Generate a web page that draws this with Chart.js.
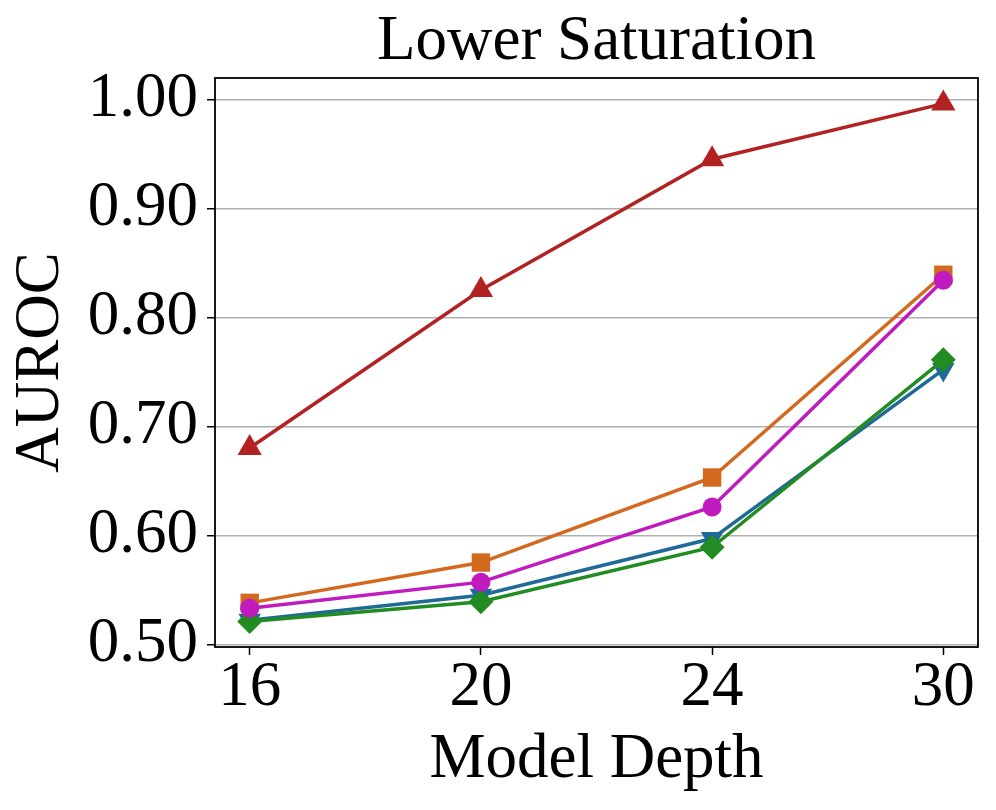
<!DOCTYPE html>
<html>
<head>
<meta charset="utf-8">
<script src="https://cdn.jsdelivr.net/npm/chart.js@4"></script>
<style>
html,body{margin:0;padding:0;background:#fff;}
#wrap{width:996px;height:810px;}
</style>
</head>
<body>
<div id="wrap"><canvas id="c" width="996" height="810"></canvas></div>
<script>
const chartTitle = 'Lower Saturation';
const depthLabels = ['16', '20', '24', '30'];
const yTickValues = [0.5, 0.6, 0.7, 0.8, 0.9, 1.0];
const yTickLabels = ['0.50', '0.60', '0.70', '0.80', '0.90', '1.00'];
const redSeries = [0.680, 0.825, 0.945, 0.996];
const orangeSeries = [0.538, 0.575, 0.653, 0.839];
const magentaSeries = [0.533, 0.557, 0.626, 0.834];
const blueSeries = [0.522, 0.545, 0.597, 0.752];
const greenSeries = [0.521, 0.539, 0.589, 0.761];

const FONT = "'Liberation Serif', 'Times New Roman', serif";
const FS = 63;
const toPts = arr => arr.map((v, i) => ({x: i, y: v}));

function ds(data, color, style, radius, rotation) {
  return {
    data: toPts(data),
    borderColor: color,
    backgroundColor: color,
    pointBackgroundColor: color,
    pointBorderColor: color,
    pointBorderWidth: 0,
    pointStyle: style,
    pointRadius: radius,
    pointHoverRadius: radius,
    pointRotation: rotation || 0,
    borderWidth: 3.5,
    tension: 0,
    fill: false
  };
}

const framePlugin = {
  id: 'frame',
  afterDraw(chart) {
    const a = chart.chartArea, ctx = chart.ctx;
    ctx.save();
    ctx.strokeStyle = '#000';
    ctx.lineWidth = 1.8;
    ctx.strokeRect(a.left, a.top, a.right - a.left, a.bottom - a.top);
    ctx.fillStyle = '#000';
    ctx.font = FS + 'px ' + FONT;
    ctx.textAlign = 'center';
    ctx.textBaseline = 'middle';
    ctx.fillText(chartTitle, (a.left + a.right) / 2, 42);
    ctx.restore();
  }
};

new Chart(document.getElementById('c'), {
  type: 'line',
  data: {
    datasets: [
      ds(redSeries, '#b22222', 'triangle', 14),
      ds(magentaSeries, '#bf1bbf', 'circle', 9.5),
      ds(greenSeries, '#228b22', 'rectRot', 12.5),
      ds(orangeSeries, '#d2691e', 'rect', 13),
      ds(blueSeries, '#1f6a96', 'triangle', 13, 180)
    ]
  },
  plugins: [framePlugin],
  options: {
    responsive: false,
    animation: false,
    devicePixelRatio: 1,
    layout: {padding: {left: 0, right: 18, top: 78, bottom: 0}},
    plugins: {
      legend: {display: false},
      tooltip: {enabled: false},
      title: {display: false}
    },
    scales: {
      x: {
        type: 'linear',
        min: -0.15,
        max: 3.15,
        afterBuildTicks: s => { s.ticks = depthLabels.map((_, i) => ({value: i})); },
        afterFit: s => { s.height = 163; },
        ticks: {
          color: '#000',
          font: {family: FONT, size: FS},
          padding: -4,
          maxRotation: 0,
          autoSkip: false,
          callback: (v, i) => depthLabels[i]
        },
        grid: {display: true, drawOnChartArea: false, drawTicks: true, tickLength: 8, tickColor: '#000', tickWidth: 1.5},
        border: {display: false},
        title: {
          display: true,
          text: 'Model Depth',
          color: '#000',
          font: {family: FONT, size: FS, lineHeight: 1.2},
          padding: {top: 0, bottom: 12}
        }
      },
      y: {
        type: 'linear',
        min: 0.4975,
        max: 1.0195,
        afterBuildTicks: s => { s.ticks = yTickValues.map(v => ({value: v})); },
        afterFit: s => { s.width = 215; },
        ticks: {
          color: '#000',
          font: {family: FONT, size: FS},
          padding: 9,
          callback: (v, i) => yTickLabels[i]
        },
        grid: {display: true, drawOnChartArea: true, color: '#b0b0b0', lineWidth: 1.5, drawTicks: true, tickLength: 8, tickColor: '#000', tickWidth: 1.5},
        border: {display: false},
        title: {
          display: true,
          text: 'AUROC',
          color: '#000',
          font: {family: FONT, size: FS, lineHeight: 1.2},
          padding: {top: 4, bottom: 0}
        }
      }
    }
  }
});
</script>
</body>
</html>
